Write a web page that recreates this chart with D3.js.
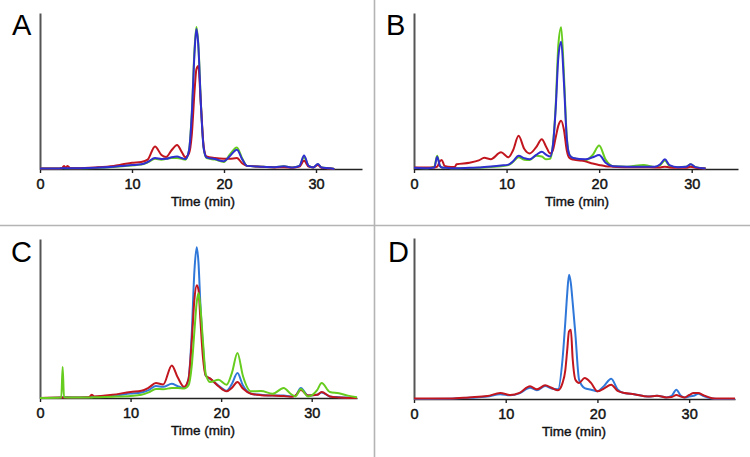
<!DOCTYPE html>
<html><head><meta charset="utf-8">
<script src="https://cdn.jsdelivr.net/npm/d3@7"></script>
<style>body{margin:0;background:#fff} svg{display:block} text{font-family:"Liberation Sans",Arial,Helvetica,sans-serif}</style>
</head><body><svg id="c" width="750" height="457"></svg>
<script>
// ---------- data (Time in min, relative absorbance 0–100) ----------
const tickLabels = [0, 10, 20, 30];
const panelLetters = ["A", "B", "C", "D"];
const axisTitle = "Time (min)";

const timeA  = [0, 2.0, 2.4, 2.6, 2.8, 3.0, 3.3, 4, 6, 8, 9, 10, 11, 11.7, 12.5, 13.2, 13.7, 14.3, 14.9, 15.4, 15.8, 16.2, 16.5, 16.8, 17.0, 17.2, 17.5, 17.8, 18.1, 19.0, 20.0, 20.6, 21.4, 22.0, 22.5, 24, 25.5, 26.5, 27.5, 28.2, 28.7, 29.2, 29.7, 30.2, 30.6, 31.5, 32];
const greenA = [0.3, 0.3, 0.5, 0.6, 0.5, 0.5, 0.5, 0.5, 0.7, 1.3, 1.8, 2.3, 2.8, 4.2, 6.5, 6, 6.5, 7, 7, 6.5, 6, 12, 36, 77, 91, 81, 41, 13, 7, 6, 4.5, 9, 13.8, 6.5, 2, 1.5, 1.2, 1.7, 1, 2, 7.5, 2, 1, 3, 1, 0.5, 0];
const redA   = [0.3, 0.3, 0.5, 2, 0.8, 2, 0.5, 0.5, 1, 2, 3, 4, 4.5, 6, 14.5, 9, 7.7, 12, 15.4, 11, 7.5, 10, 22, 50, 64, 66, 40, 14, 8, 7, 6.5, 6.5, 7, 3.5, 2, 1.5, 1, 1.2, 0.8, 1.5, 5.3, 1.5, 1, 2.5, 0.8, 0.3, 0];
const blueA  = [0.3, 0.3, 0.5, 0.6, 0.5, 0.5, 0.5, 0.5, 0.8, 1.5, 2, 2.5, 3, 4.5, 7, 6.4, 6.5, 7.5, 8, 7, 6.4, 12, 35, 75, 89.7, 80, 40, 13, 7.5, 6.4, 5, 8, 12.3, 6, 2, 1.5, 1.2, 1.7, 1, 2, 8.7, 2, 1, 3.2, 1, 0.5, 0];

const timeB  = [0, 1.5, 2.2, 2.5, 2.8, 3.0, 3.3, 4.0, 4.4, 4.6, 6, 7, 7.6, 8.3, 9.4, 10.2, 10.7, 11.3, 11.9, 12.5, 13.2, 13.8, 14.3, 14.7, 15.0, 15.3, 15.6, 15.9, 16.2, 16.5, 16.8, 17.2, 18.5, 19.3, 20.0, 20.7, 21.5, 23, 24.8, 26, 26.6, 27.1, 27.6, 28.5, 29.4, 29.9, 30.4, 31.5];
const greenB = [0.8, 0.5, 1.5, 8.5, 2, 1, 0.8, 0.5, 0.5, 0.5, 0.6, 0.8, 1, 1.3, 1.8, 2.5, 4.5, 7.5, 6, 5.8, 8.5, 8, 6.2, 6.5, 15, 40, 80, 90.8, 60, 21, 9, 7, 5.6, 9, 15, 6, 1.7, 1.5, 2.6, 1.3, 2.5, 5.5, 2, 1.2, 1.5, 3, 1.2, 0.3];
const redB   = [1, 1, 1, 1.5, 5, 5.8, 2, 1.3, 1.3, 3, 4, 5.5, 7.2, 6.3, 10.7, 7.5, 12, 21.3, 13, 10, 14, 19, 14, 10, 12, 20, 28, 31, 25, 12, 7, 6, 4.9, 3.5, 2.6, 1.8, 1.5, 1.2, 1.2, 1, 1, 1.5, 1, 0.8, 0.8, 1.5, 0.8, 0.3];
const blueB  = [0.8, 0.5, 1, 7.9, 2, 1, 0.8, 0.5, 0.5, 0.5, 0.8, 1, 1.3, 1.6, 2.2, 2.8, 5, 8.5, 7, 6.2, 9, 11, 9, 8, 15, 38, 72, 81.6, 55, 20, 9, 7, 6.2, 7.5, 9, 4, 1.7, 1.5, 1.5, 1.4, 3, 6.2, 2.5, 1.2, 1.5, 3, 1.2, 0.3];

const timeC  = [0, 2.35, 2.5, 2.65, 3.5, 5.4, 5.7, 6.0, 8, 10, 11.2, 12, 12.8, 13.6, 14.55, 15.2, 15.9, 16.4, 16.75, 17.05, 17.3, 17.5, 17.7, 18.0, 18.3, 18.8, 19.7, 20.6, 21.2, 21.8, 22.4, 23.3, 24.4, 25.7, 26.9, 27.7, 28.2, 28.8, 29.6, 30.6, 31.1, 32.0, 33.0, 34.0, 35.0];
const blueC  = [0, 0.3, 0.5, 0.5, 0.3, 0.5, 0.8, 0.8, 1.5, 2.8, 3.5, 5, 7.5, 7, 9, 7.5, 6.3, 12, 40, 80, 94.8, 85, 60, 32, 14, 12, 7.8, 4.6, 9, 15.7, 8, 2.7, 2, 1.5, 1.5, 1, 1.5, 6.3, 1.5, 2, 3.5, 1, 0.5, 0.3, 0];
const redC   = [0, 0.3, 0.3, 0.3, 0.3, 0.5, 2, 1, 2, 3.8, 4.5, 6.5, 9.4, 8.5, 20.5, 13, 7, 12, 35, 62, 70.9, 68, 50, 25, 14, 12.2, 7.4, 4.2, 6.5, 10, 6, 2.7, 1.8, 1.5, 1.2, 0.8, 1.5, 5, 1.5, 2, 3.8, 1, 0.3, 0, 0];
const greenC = [0, 0.3, 19.5, 0.5, 0.3, 0.3, 0.3, 0.5, 0.8, 1.3, 2, 3.5, 5.7, 5.5, 6.3, 6.3, 5.9, 8, 20, 42, 60, 66, 58, 35, 15, 10, 11.5, 8.4, 16, 28.3, 14, 4.2, 4.4, 2.7, 6.3, 2.5, 1, 5.7, 1, 5, 9.4, 3.8, 3, 1.5, 0.5];

const timeD  = [0, 4, 6, 8, 9.4, 10.5, 11.5, 12.65, 13.4, 14.3, 15.0, 15.7, 16.2, 16.5, 16.7, 16.9, 17.1, 17.3, 17.6, 18.0, 18.6, 19.3, 20.0, 20.7, 21.5, 22.2, 23, 24, 25.5, 26.5, 27.5, 28.1, 28.6, 29.1, 29.5, 30.0, 30.5, 31.0, 31.5, 32.5, 33, 35];
const blueD  = [0, 0.2, 0.7, 1.5, 3, 2.3, 3.5, 7, 5.5, 8, 6.5, 6, 25, 48, 65, 77.2, 72, 60, 40, 12, 6.8, 5.8, 4.8, 8, 12.6, 6, 3.5, 3, 1.5, 2, 1, 2, 5.8, 2, 1, 1.5, 2, 3.3, 2, 0.3, 0, 0];
const redD   = [0.3, 0.3, 1, 1.8, 3.7, 2.5, 3.8, 7.9, 6, 8.5, 7, 5.4, 10, 18, 30, 42, 43, 25, 12, 10, 13, 10, 4.8, 6.5, 8.9, 5, 3.7, 3, 1.5, 2, 1, 1.2, 2.5, 1.5, 1, 2.5, 3.7, 3.7, 2.5, 0.5, 0.3, 0.3];

// ---------- styles ----------
const GREEN = "#66cc1e", RED = "#c2161f", BLUE_DARK = "#2f2fcf", BLUE_LIGHT = "#2f78da";

const panels = [
  {letter: panelLetters[0], x0: 40,  x1: 362, yTop: 13,  yBase: 169, lx: 12,  ly: 35,  tx: 203,
   time: timeA, series: [[greenA, GREEN], [redA, RED], [blueA, BLUE_DARK]]},
  {letter: panelLetters[1], x0: 414, x1: 738, yTop: 13,  yBase: 169, lx: 386, ly: 35,  tx: 577,
   time: timeB, series: [[greenB, GREEN], [redB, RED], [blueB, BLUE_DARK]]},
  {letter: panelLetters[2], x0: 40,  x1: 357, yTop: 239, yBase: 398, lx: 11,  ly: 262, tx: 203,
   time: timeC, series: [[blueC, BLUE_LIGHT], [redC, RED], [greenC, GREEN]]},
  {letter: panelLetters[3], x0: 414, x1: 735, yTop: 238, yBase: 399, lx: 388, ly: 262, tx: 574,
   time: timeD, series: [[blueD, BLUE_LIGHT], [redD, RED]]}
];

const svg = d3.select("#c");
svg.append("rect").attr("width", 750).attr("height", 457).attr("fill", "#fff");

// panel dividers
svg.append("line").attr("x1", 374.5).attr("x2", 374.5).attr("y1", 0).attr("y2", 457)
  .attr("stroke", "#b4b4b4").attr("stroke-width", 1.6);
svg.append("line").attr("x1", 0).attr("x2", 750).attr("y1", 225.5).attr("y2", 225.5)
  .attr("stroke", "#b4b4b4").attr("stroke-width", 1.6);

panels.forEach(p => {
  const x = d3.scaleLinear().domain([0, 35]).range([p.x0, p.x1]);
  const y = d3.scaleLinear().domain([0, 100]).range([p.yBase, p.yTop]);
  const g = svg.append("g");

  // y axis (no ticks)
  const ya = g.append("g").attr("transform", `translate(${p.x0},0)`)
    .call(d3.axisLeft(y).tickValues([]).tickSizeOuter(0));
  ya.select(".domain").attr("stroke", "#555").attr("stroke-width", 2);

  // x axis
  const xa = g.append("g").attr("transform", `translate(0,${p.yBase})`)
    .call(d3.axisBottom(x).tickValues(tickLabels).tickSize(4).tickSizeOuter(0).tickPadding(6));
  xa.select(".domain").attr("stroke", "#222").attr("stroke-width", 1.6);
  xa.selectAll(".tick line").attr("stroke", "#222").attr("stroke-width", 1.4);
  xa.selectAll(".tick text").attr("fill", "#111").attr("font-size", 14.5)
    .attr("font-family", "'Liberation Sans', Arial, sans-serif").attr("stroke", "#111").attr("stroke-width", 0.45);

  // axis title
  g.append("text").attr("x", p.tx).attr("y", p.yBase + 37).attr("text-anchor", "middle")
    .attr("font-size", 13.5).attr("fill", "#111").attr("stroke", "#111").attr("stroke-width", 0.4)
    .text(axisTitle);

  // panel letter
  g.append("text").attr("x", p.lx).attr("y", p.ly).attr("font-size", 29).attr("fill", "#000")
    .text(p.letter);

  // traces
  const line = d3.line().x(d => x(d[0])).y(d => y(d[1])).curve(d3.curveMonotoneX);
  p.series.forEach(([vals, col]) => {
    const pts = p.time.map((t, i) => [t, vals[i]]);
    g.append("path").datum(pts).attr("d", line).attr("fill", "none")
      .attr("stroke", col).attr("stroke-width", 2).attr("stroke-linejoin", "round");
  });
});
</script>
</body></html>
